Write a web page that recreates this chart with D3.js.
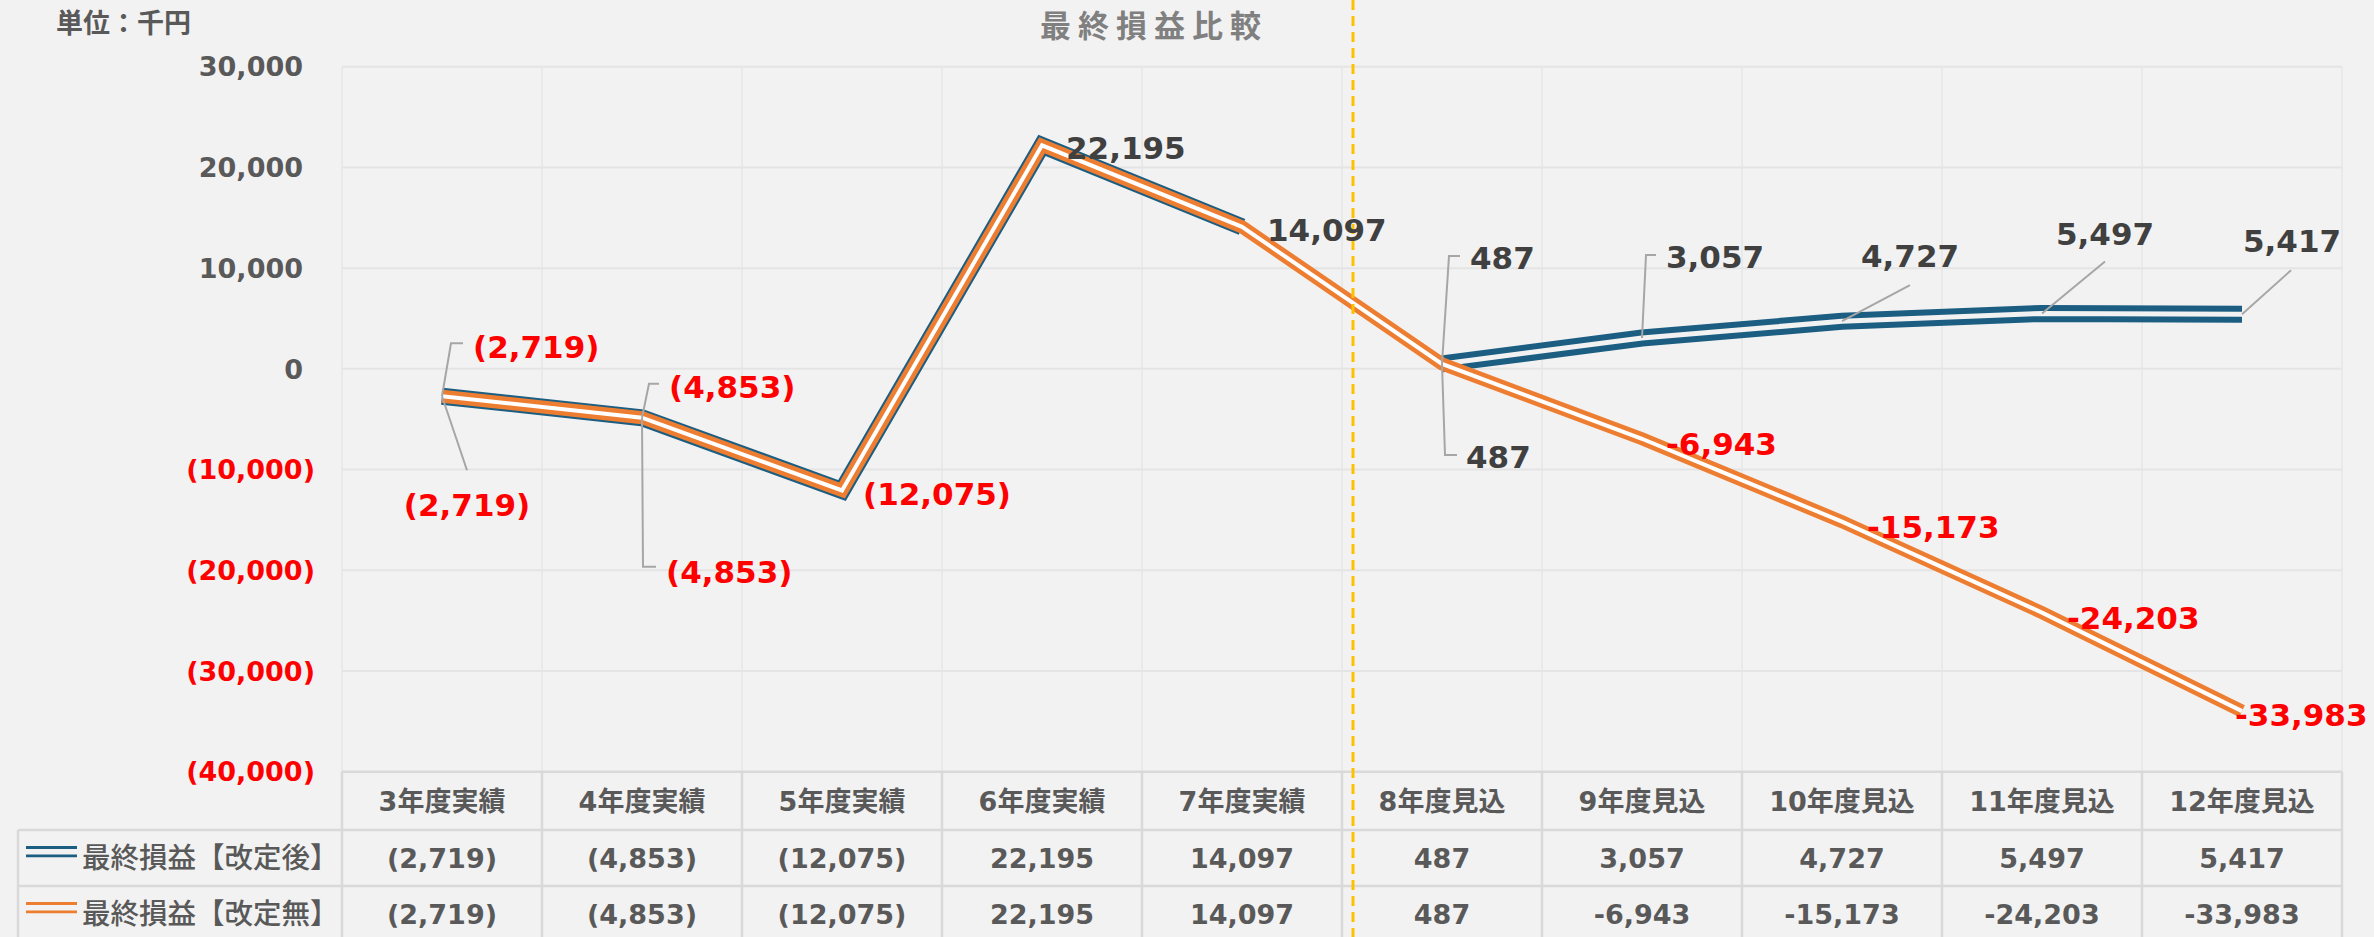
<!DOCTYPE html>
<meta charset="utf-8">
<script src="https://d3js.org/d3.v7.min.js"></script>
<style>
body { margin: 0; background: #f2f2f2; }
svg { display: block; }
</style>
<div id="chart"></div>
<script>
// data
var categories = ["3年度実績", "4年度実績", "5年度実績", "6年度実績", "7年度実績",
                  "8年度見込", "9年度見込", "10年度見込", "11年度見込", "12年度見込"];
var seriesNames = ["最終損益【改定後】", "最終損益【改定無】"];
var afterValues = [-2719, -4853, -12075, 22195, 14097, 487, 3057, 4727, 5497, 5417];
var withoutValues = [-2719, -4853, -12075, 22195, 14097, 487, -6943, -15173, -24203, -33983];
var yTicks = [30000, 20000, 10000, 0, -10000, -20000, -30000, -40000];

// label placement (pixel offsets from the point)
var labelLayout = [
  {s: 0, i: 0, dx: 31, dy: -49, anchor: "start", leader: [[9, -53], [21, -53]]},
  {s: 1, i: 0, dx: 25, dy: 109, anchor: "middle", leader: [[25, 74]]},
  {s: 0, i: 1, dx: 27, dy: -31, anchor: "start", leader: [[7, -34], [17, -34]]},
  {s: 1, i: 1, dx: 24, dy: 154, anchor: "start", leader: [[1, 149], [14, 149]]},
  {s: 1, i: 2, dx: 21, dy: 3, anchor: "start"},
  {s: 1, i: 3, dx: 24, dy: 3, anchor: "start"},
  {s: 1, i: 4, dx: 25, dy: 3, anchor: "start"},
  {s: 0, i: 5, dx: 28, dy: -106, anchor: "start", leader: [[7, -108], [18, -108]]},
  {s: 1, i: 5, dx: 24, dy: 93, anchor: "start", leader: [[3, 91], [15, 91]]},
  {s: 0, i: 6, dx: 24, dy: -81, anchor: "start", leader: [[4, -83], [14, -83]]},
  {s: 0, i: 7, dx: 68, dy: -65, anchor: "middle", leader: [[68, -36]]},
  {s: 0, i: 8, dx: 63, dy: -80, anchor: "middle", leader: [[63, -52]]},
  {s: 0, i: 9, dx: 50, dy: -73, anchor: "middle", leader: [[49, -44]]},
  {s: 1, i: 6, dx: 24, dy: 5, anchor: "start"},
  {s: 1, i: 7, dx: 25, dy: 5, anchor: "start"},
  {s: 1, i: 8, dx: 25, dy: 5, anchor: "start"},
  {s: 1, i: 9, dx: -7, dy: 4, anchor: "start"}
];

var W = 2374, H = 937;
var font = "'DejaVu Sans', 'Noto Sans CJK JP', sans-serif";
var blue = "#1b5e82", orange = "#ed7d31", red = "#ff0000";
var plotTop = 66.7, plotBottom = 771.7, plotLeft = 342, plotRight = 2342;
var row1 = 858, row2 = 914, headY = 801;

var svg = d3.select("#chart").append("svg")
    .attr("width", W).attr("height", H)
    .style("font-family", font);

var x = d3.scaleBand().domain(categories).range([plotLeft, plotRight]);
var y = d3.scaleLinear().domain([-40000, 30000]).range([plotBottom, plotTop]);
var cx = function(i) { return x(categories[i]) + x.bandwidth() / 2; };

var isActual = function(i) { return categories[i].indexOf("実績") >= 0; };
var fmtParen = function(v) { return v < 0 ? "(" + d3.format(",")(-v) + ")" : d3.format(",")(v); };
var fmtMinus = function(v) { return d3.format(",")(v).replace("−", "-"); };
var fmtCell = function(v, i) { return isActual(i) ? fmtParen(v) : fmtMinus(v); };

// grid
svg.append("g").selectAll("line")
  .data(yTicks.slice(0, -1))
  .enter().append("line")
    .attr("x1", plotLeft).attr("x2", plotRight)
    .attr("y1", function(d) { return y(d); }).attr("y2", function(d) { return y(d); })
    .attr("stroke", "#e4e4e4").attr("stroke-width", 2);

var bounds = categories.map(function(c) { return x(c); }).concat([plotRight]);
svg.append("g").selectAll("line")
  .data(bounds)
  .enter().append("line")
    .attr("x1", function(d) { return d; }).attr("x2", function(d) { return d; })
    .attr("y1", plotTop).attr("y2", plotBottom)
    .attr("stroke", "#e6e6e6").attr("stroke-width", 1.5);

// y axis labels
svg.append("g").selectAll("text")
  .data(yTicks)
  .enter().append("text")
    .attr("x", function(d) { return d < 0 ? 315 : 303; })
    .attr("y", function(d) { return y(d); })
    .attr("dy", "0.36em")
    .attr("text-anchor", "end")
    .attr("font-size", 27).attr("font-weight", "bold")
    .attr("fill", function(d) { return d < 0 ? red : "#595959"; })
    .text(fmtParen);

// title and unit
svg.append("text")
    .attr("x", 1040).attr("y", 26).attr("dy", "0.35em")
    .attr("font-size", 31).attr("font-weight", "bold")
    .attr("letter-spacing", 7)
    .attr("fill", "#808080")
    .text("最終損益比較");
svg.append("text")
    .attr("x", 56).attr("y", 24).attr("dy", "0.35em")
    .attr("font-size", 27).attr("font-weight", "bold")
    .attr("fill", "#595959")
    .text("単位：千円");

// data table grid
var tg = svg.append("g").attr("stroke", "#d9d9d9").attr("stroke-width", 2.5);
tg.append("line").attr("x1", plotLeft).attr("x2", plotRight).attr("y1", plotBottom).attr("y2", plotBottom);
[830, 886].forEach(function(yy) {
  tg.append("line").attr("x1", 18).attr("x2", plotRight).attr("y1", yy).attr("y2", yy);
});
tg.selectAll(".v").data(bounds).enter().append("line")
    .attr("x1", function(d) { return d; }).attr("x2", function(d) { return d; })
    .attr("y1", plotBottom).attr("y2", H);
tg.append("line").attr("x1", 18).attr("x2", 18).attr("y1", 830).attr("y2", H);

// header + values
svg.append("g").selectAll("text")
  .data(categories)
  .enter().append("text")
    .attr("x", function(d, i) { return cx(i); })
    .attr("y", headY).attr("dy", "0.36em")
    .attr("text-anchor", "middle")
    .attr("font-size", 27).attr("font-weight", "bold").attr("fill", "#595959")
    .text(function(d) { return d; });

[afterValues, withoutValues].forEach(function(vals, s) {
  svg.append("g").selectAll("text")
    .data(vals)
    .enter().append("text")
      .attr("x", function(d, i) { return cx(i); })
      .attr("y", s === 0 ? row1 : row2).attr("dy", "0.36em")
      .attr("text-anchor", "middle")
      .attr("font-size", 27).attr("font-weight", "bold").attr("fill", "#595959")
      .text(fmtCell);
});

// legend keys
[[blue, row1], [orange, row2]].forEach(function(k, s) {
  [-10.5, -2.2].forEach(function(off) {
    svg.append("line")
        .attr("x1", 26).attr("x2", 77)
        .attr("y1", k[1] + off).attr("y2", k[1] + off)
        .attr("stroke", k[0]).attr("stroke-width", 2.8);
  });
  svg.append("text")
      .attr("x", 82).attr("y", k[1]).attr("dy", "0.36em")
      .attr("font-size", 28.5).attr("font-weight", 500).attr("fill", "#595959")
      .text(seriesNames[s]);
});

// compound (double) lines
var line = d3.line()
    .x(function(d) { return cx(d.i); })
    .y(function(d) { return y(d.v); });

function doubleLine(pts, color, outer, inner, innerColor) {
  var g = svg.append("g").attr("fill", "none")
      .attr("stroke-linejoin", "miter").attr("stroke-linecap", "butt");
  g.append("path").attr("d", line(pts)).attr("stroke", color).attr("stroke-width", outer);
  g.append("path").attr("d", line(pts)).attr("stroke", innerColor).attr("stroke-width", inner);
}

var afterPts = afterValues.map(function(v, i) { return {i: i, v: v}; });
var withoutPts = withoutValues.map(function(v, i) { return {i: i, v: v}; });

doubleLine(afterPts.filter(function(d) { return isActual(d.i); }), blue, 17, 5, "#f2f2f2");
doubleLine(afterPts.filter(function(d) { return !isActual(d.i); }), blue, 17, 5, "#f2f2f2");
doubleLine(withoutPts, orange, 13, 4, "#ffffff");

// separator between actuals and forecasts
var sepX = x(categories[5]) + 11;
svg.append("line")
    .attr("x1", sepX).attr("x2", sepX).attr("y1", 0).attr("y2", H)
    .attr("stroke", "#ffc000").attr("stroke-width", 3)
    .attr("stroke-dasharray", "10,6");

// data labels
var allValues = [afterValues, withoutValues];
var lg = svg.append("g");
labelLayout.forEach(function(l) {
  var v = allValues[l.s][l.i];
  var px = cx(l.i), py = y(v);
  if (l.leader) {
    var pts = [[px, py]].concat(l.leader.map(function(p) { return [px + p[0], py + p[1]]; }));
    lg.append("path")
        .attr("d", d3.line()(pts))
        .attr("fill", "none").attr("stroke", "#a6a6a6").attr("stroke-width", 2);
  }
  lg.append("text")
      .attr("x", px + l.dx).attr("y", py + l.dy).attr("dy", "0.36em")
      .attr("text-anchor", l.anchor)
      .attr("font-size", 31).attr("font-weight", "bold")
      .attr("fill", v < 0 ? red : "#404040")
      .text(fmtCell(v, l.i));
});
</script>
